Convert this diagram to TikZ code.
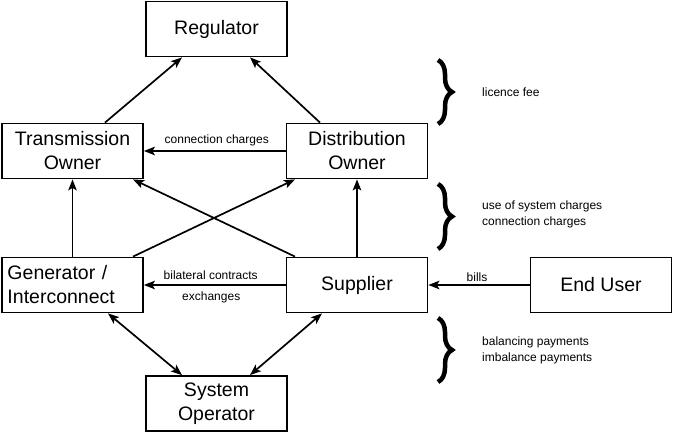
\documentclass[tikz,border=0pt]{standalone}
\usepackage{fontspec}
\setmainfont{Liberation Sans}
\usetikzlibrary{arrows.meta,calc,decorations.pathreplacing}
\begin{document}
\begin{tikzpicture}[x=1pt,y=-1pt,
  box/.style={draw,line width=1.8pt,minimum width=141pt,minimum height=55pt,inner sep=0pt,
    font=\fontsize{19.5}{24}\selectfont,align=center},
  conn/.style={line width=1.7pt,-{Stealth[length=11pt,width=8.5pt,inset=2.5pt]}},
  dconn/.style={line width=1.7pt,{Stealth[length=11pt,width=8.5pt,inset=2.5pt]}-{Stealth[length=11pt,width=8.5pt,inset=2.5pt]}},
  lbl/.style={font=\fontsize{12}{16}\selectfont,inner sep=0pt},
  brc/.style={line width=4.5pt,decorate,decoration={brace,amplitude=14pt}}]
\useasboundingbox (0,0) rectangle (673,433);
\node[box] (reg) at (216.5,29) {Regulator};
\node[box] (to) at (72.5,151) {Transmission\\Owner};
\node[box] (do) at (357,151) {Distribution\\Owner};
\node[box,align=left,text width=130pt] (gen) at (72.5,285) {Generator /\\Interconnect};
\node[box] (sup) at (357,285) {Supplier};
\node[box] (eu) at (601,285) {End User};
\node[box] (so) at (216.5,403.5) {System\\Operator};
% arrows
\draw[conn] ([xshift=32.5pt]to.north) -- ([xshift=-34.5pt]reg.south);
\draw[conn] ([xshift=-37pt]do.north) -- ([xshift=33.5pt]reg.south);
\draw[conn] (do.west) -- (to.east) node[lbl,midway,above=4pt,xshift=2pt] {connection charges};
\draw[conn] (gen.north) -- (to.south);
\draw[conn] (sup.north) -- (do.south);
\draw[conn] ([xshift=-62pt]sup.north) -- ([xshift=60.5pt]to.south);
\draw[conn] ([xshift=60.5pt]gen.north) -- ([xshift=-62pt]do.south);
\draw[conn] (sup.west) -- (gen.east)
  node[lbl,midway,above=5pt,xshift=-4pt] {bilateral contracts}
  node[lbl,midway,below=6pt,xshift=-3.5pt] {exchanges};
\draw[conn] (eu.west) -- (sup.east) node[lbl,midway,above=3pt,xshift=-2pt] {bills};
\draw[dconn] ([xshift=35.5pt]gen.south) -- ([xshift=-34.5pt]so.north);
\draw[dconn] ([xshift=-35pt]sup.south) -- ([xshift=33.5pt]so.north);
% braces
\coordinate (b1t) at (438,60);
\coordinate (b1b) at (438,124);
\coordinate (b2t) at (438,184);
\coordinate (b2b) at (438,249);
\coordinate (b3t) at (438,318);
\coordinate (b3b) at (438,382);
\draw[brc] (b1t) -- (b1b);
\draw[brc] (b2t) -- (b2b);
\draw[brc] (b3t) -- (b3b);
\node[lbl,anchor=west] (t1) at (482,92) {licence fee};
\node[lbl,anchor=west,align=left] (t2) at (482,214) {use of system charges\\connection charges};
\node[lbl,anchor=west,align=left] (t3) at (482,350.5) {balancing payments\\imbalance payments};
\end{tikzpicture}
\end{document}
